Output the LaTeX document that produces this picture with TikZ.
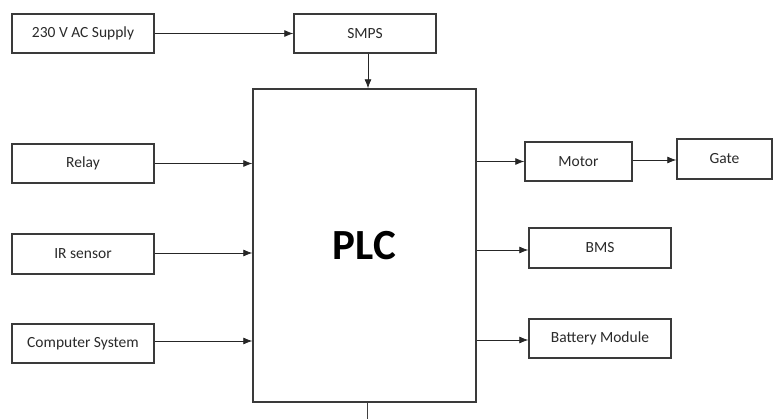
\documentclass[tikz,border=0pt]{standalone}
\usepackage{fontspec}
\setmainfont{Carlito}
\usetikzlibrary{arrows.meta}
\definecolor{boxline}{HTML}{3A3A3A}
\definecolor{txt}{HTML}{2A2A2A}
\tikzset{
  blk/.style={draw=boxline, line width=1.4pt, fill=white, inner sep=0pt,
    text=txt, font=\fontsize{15.5}{18}\selectfont},
  arr/.style={draw=black!85, line width=0.8pt, -{Latex[length=9pt,width=7pt]}},
  plain/.style={draw=black!75, line width=0.8pt}
}
\begin{document}
\begin{tikzpicture}[x=1pt,y=-1pt]
\useasboundingbox (0,0) rectangle (774,419);
\node[blk, minimum width=142pt, minimum height=39pt] (ac) at (83,33.5) {230 V AC Supply};
\node[blk, minimum width=142pt, minimum height=39pt] (smps) at (365,33.5) {SMPS};
\node[blk, minimum width=223pt, minimum height=313pt, font=\fontsize{43}{50}\selectfont\bfseries, text=black] (plc) at (364.5,245.5) {PLC};
\node[blk, minimum width=142pt, minimum height=39pt] (relay) at (83,163.5) {Relay};
\node[blk, minimum width=142pt, minimum height=40pt] (ir) at (83,254) {IR sensor};
\node[blk, minimum width=142pt, minimum height=39pt] (comp) at (83,343.5) {Computer System};
\node[blk, minimum width=107pt, minimum height=39pt] (motor) at (578.5,161.5) {Motor};
\node[blk, minimum width=95pt, minimum height=40pt] (gate) at (724.5,159) {Gate};
\node[blk, minimum width=142pt, minimum height=40pt] (bms) at (600,248) {BMS};
\node[blk, minimum width=142pt, minimum height=39pt] (batt) at (600,338.5) {Battery Module};
\coordinate (out) at (367,419);

\draw[arr] (ac.east) -- (smps.west);
\draw[arr] ([xshift=3pt]smps.south) -- ([xshift=3pt]smps.south |- plc.north);
\draw[arr] (relay.east) -- (relay.east -| plc.west);
\draw[arr] ([yshift=1pt]ir.east) -- ([yshift=1pt]ir.east -| plc.west);
\draw[arr] ([yshift=2.5pt]comp.east) -- ([yshift=2.5pt]comp.east -| plc.west);
\draw[arr] (plc.east |- motor.west) -- (motor.west);
\draw[arr] ([yshift=1.5pt]motor.east) -- ([yshift=1.5pt]motor.east -| gate.west);
\draw[arr] (plc.east |- 0,250) -- (bms.west |- 0,250);
\draw[arr] (plc.east |- 0,340) -- (batt.west |- 0,340);
\draw[plain] (plc.south -| out) -- (out);
\end{tikzpicture}
\end{document}
